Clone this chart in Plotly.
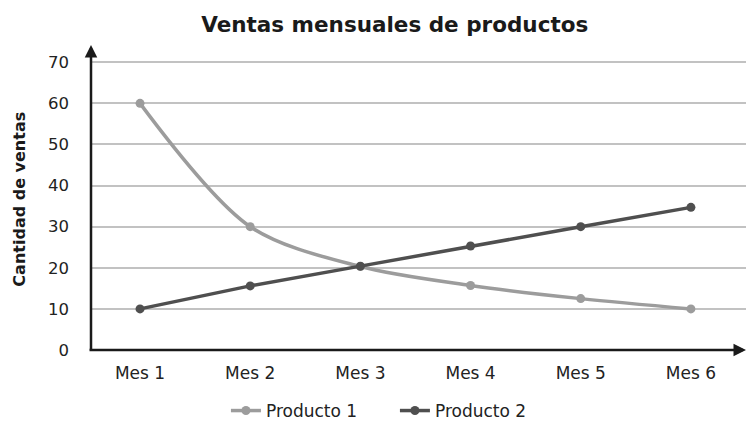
import plotly.graph_objects as go

meses = ["Mes 1", "Mes 2", "Mes 3", "Mes 4", "Mes 5", "Mes 6"]
producto1 = [60, 30, 20.3, 15.7, 12.5, 10]
producto2 = [10, 15.6, 20.4, 25.3, 30, 34.7]
y_ticks = [0, 10, 20, 30, 40, 50, 60, 70]

FONT = "DejaVu Sans"
TXT = "#222222"

fig = go.Figure()
fig.add_trace(go.Scatter(
    x=meses, y=producto1, name="Producto 1", mode="lines+markers",
    line=dict(color="#9c9c9c", width=3.5, shape="spline", smoothing=0.9),
    marker=dict(color="#9c9c9c", size=9),
))
fig.add_trace(go.Scatter(
    x=meses, y=producto2, name="Producto 2", mode="lines+markers",
    line=dict(color="#4f4f4f", width=3.5),
    marker=dict(color="#4f4f4f", size=9),
))

fig.update_layout(
    width=749, height=422,
    margin=dict(l=91, r=3, t=45, b=72, autoexpand=False),
    paper_bgcolor="white", plot_bgcolor="white",
    font=dict(family=FONT, size=17, color=TXT),
    title=dict(text="<b>Ventas mensuales de productos</b>",
               x=0.527, xanchor="center", y=0.942, yanchor="middle",
               font=dict(family=FONT, size=21.5, color="#1a1a1a")),
    showlegend=True,
    legend=dict(orientation="h", x=0.206, xanchor="left", y=-0.2, yanchor="middle",
                font=dict(family=FONT, size=17, color=TXT),
                itemwidth=30, tracegroupgap=0,
                entrywidth=124, entrywidthmode="pixels"),
    xaxis=dict(range=[-0.445, 5.5], showgrid=False, showline=False, zeroline=False,
               ticks="", ticklabelstandoff=11, automargin=False,
               tickfont=dict(family=FONT, size=17, color=TXT)),
    yaxis=dict(range=[0, 74.2], tickvals=y_ticks, showgrid=True,
               gridcolor="#c2c2c2", gridwidth=1.8, showline=False, zeroline=False,
               ticks="", ticklabelstandoff=21, automargin=False,
               tickfont=dict(family=FONT, size=16.5, color=TXT)),
)

# y-axis title as rotated text
fig.add_annotation(text="<b>Cantidad de ventas</b>", xref="paper", yref="paper",
                   x=(20 - 91) / 655, y=0.493, xanchor="center", yanchor="middle",
                   textangle=-90, showarrow=False,
                   font=dict(family=FONT, size=16, color="#1a1a1a"))

# axis arrows
fig.add_annotation(x=0, y=1, xref="paper", yref="paper", ax=0, ay=306,
                   axref="pixel", ayref="pixel", text="", showarrow=True,
                   arrowhead=2, arrowsize=1.0, arrowwidth=2.5, arrowcolor="#1a1a1a",
                   standoff=0)
fig.add_annotation(x=1, y=0, xref="paper", yref="paper", ax=-658, ay=0,
                   axref="pixel", ayref="pixel", text="", showarrow=True,
                   arrowhead=2, arrowsize=1.0, arrowwidth=2.5, arrowcolor="#1a1a1a",
                   standoff=0)

fig.write_html("out.html", config={"displayModeBar": False},
               post_script="document.body.style.margin='0px';")
